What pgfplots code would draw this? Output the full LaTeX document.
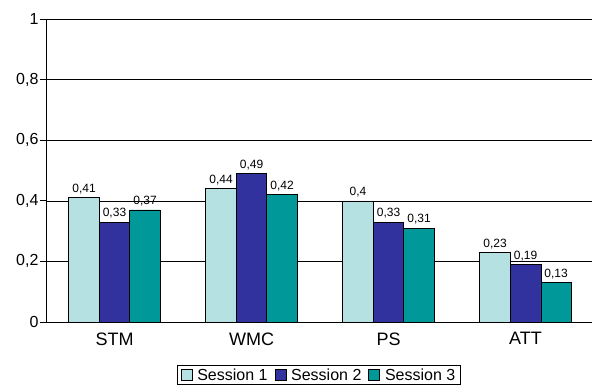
\documentclass[border=0pt]{standalone}
\usepackage{pgfplots}
\pgfplotsset{compat=1.18}
\usepackage{fontspec}
\setmainfont{Liberation Sans}
\definecolor{sone}{RGB}{182,225,226}
\definecolor{stwo}{RGB}{50,50,158}
\definecolor{sthree}{RGB}{0,152,152}
\begin{document}
\begin{tikzpicture}
\begin{axis}[
  name=ax,
  scale only axis,
  width=546pt, height=303pt,
  xmin=-0.5, xmax=3.485,
  ymin=0, ymax=1,
  ytick={0,0.2,0.4,0.6,0.8,1},
  /pgf/number format/use comma,
  /pgf/number format/assume math mode=true,
  yticklabel style={font=\fontsize{16}{18}\selectfont, xshift=2pt},
  xtick={0,1,2,3},
  xticklabels={STM,WMC,PS,ATT},
  xticklabel style={font=\fontsize{18}{20}\selectfont, yshift=-1pt},
  x tick style={draw=none},
  extra x ticks={-0.5,0.5,1.5,2.5},
  extra x tick labels={},
  extra x tick style={tick style={draw=black, line width=0.8pt}, major tick length=6pt, tick align=outside},
  y tick style={draw=black, line width=0.8pt},
  major tick length=6pt,
  tick align=outside,
  axis x line*=bottom,
  axis y line*=left,
  axis line style={black, line width=0.8pt, -},
  ymajorgrids,
  grid style={black, line width=0.6pt},
  ybar=0pt,
  bar width=30.5pt,
  nodes near coords,
  every node near coord/.append style={font=\fontsize{12}{14}\selectfont, black, /pgf/number format/use comma, /pgf/number format/assume math mode=true},
  legend style={at={(0.5,-0.143)}, anchor=north, legend columns=3, draw=black, line width=0.6pt,
    font=\fontsize{16}{18}\selectfont, inner xsep=3pt, inner ysep=1pt,
    /tikz/every odd column/.append style={column sep=3pt},
    /tikz/every even column/.append style={column sep=5pt}},
  legend image code/.code={\draw[#1, draw=black, line width=0.6pt] (0pt,-5.5pt) rectangle (11pt,5.5pt);},
]
\addplot[fill=sone, draw=black, line width=0.6pt] coordinates {(0,0.41) (1,0.44) (2,0.4) (3,0.23)};
\addplot[fill=stwo, draw=black, line width=0.6pt] coordinates {(0,0.33) (1,0.49) (2,0.33) (3,0.19)};
\addplot[fill=sthree, draw=black, line width=0.6pt] coordinates {(0,0.37) (1,0.42) (2,0.31) (3,0.13)};
\legend{Session 1,Session 2,Session 3}
\end{axis}
\pgfresetboundingbox
\path ([xshift=-46pt,yshift=-67pt]ax.south west) rectangle ([yshift=19pt]ax.north east);
\end{tikzpicture}
\end{document}
